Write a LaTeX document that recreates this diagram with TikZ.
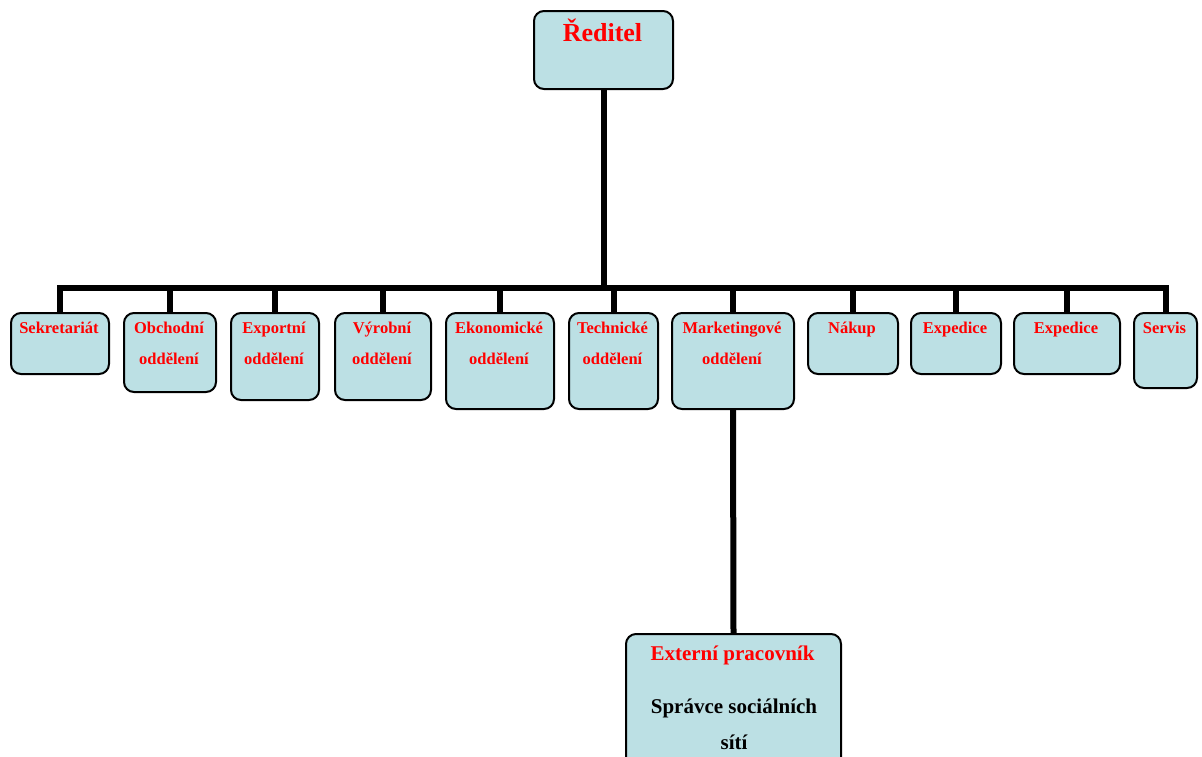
\documentclass[tikz,border=0pt]{standalone}
\usepackage{fontspec}
\setmainfont{Liberation Serif}
\definecolor{boxfill}{RGB}{188,224,228}
\tikzset{
  orgbox/.style={draw=black, line width=2pt, fill=boxfill, rounded corners=10pt, anchor=north west, inner sep=0pt},
  conn/.style={line width=6pt, black},
  lbl/.style={anchor=base, text=red, font=\fontsize{16.5}{20}\selectfont\bfseries, inner sep=0pt},
  biglbl/.style={anchor=base, text=red, font=\fontsize{21}{24}\selectfont\bfseries, inner sep=0pt},
  blklbl/.style={anchor=base, text=black, font=\fontsize{21}{24}\selectfont\bfseries, inner sep=0pt},
}
\begin{document}
\begin{tikzpicture}[x=1pt,y=-1pt]
\useasboundingbox (0,0) rectangle (1202,756);
\clip (0,0) rectangle (1202,756);
\coordinate (bar) at (0,288);
% boxes
\node[orgbox, minimum width=139pt, minimum height=78pt] (red) at (533,10) {};
\node[orgbox, minimum width=98pt, minimum height=61pt] (sek) at (10,312) {};
\node[orgbox, minimum width=92pt, minimum height=79pt] (obc) at (123,312) {};
\node[orgbox, minimum width=88pt, minimum height=87pt] (exp) at (230,312) {};
\node[orgbox, minimum width=96pt, minimum height=87pt] (vyr) at (334,312) {};
\node[orgbox, minimum width=108pt, minimum height=96pt] (eko) at (445,312) {};
\node[orgbox, minimum width=89pt, minimum height=96pt] (tec) at (568,312) {};
\node[orgbox, minimum width=122pt, minimum height=96pt] (mkt) at (671,312) {};
\node[orgbox, minimum width=90pt, minimum height=61pt] (nak) at (807,312) {};
\node[orgbox, minimum width=90pt, minimum height=61pt] (exa) at (910,312) {};
\node[orgbox, minimum width=106pt, minimum height=61pt] (exb) at (1013,312) {};
\node[orgbox, minimum width=63pt, minimum height=75pt] (ser) at (1133,312) {};
\node[orgbox, minimum width=215pt, minimum height=150pt] (ext) at (625,633) {};
% connectors
\foreach \b in {sek,obc,exp,vyr,eko,tec,mkt,nak,exa,exb,ser}{
  \draw[conn] (red.south) -- (red.south |- bar) -| (\b.north);
}
\draw[conn] (mkt.south) -- (ext.north);
% labels
\node[biglbl, font=\fontsize{26}{30}\selectfont\bfseries] (redt) at (602.5,41) {Ředitel};
\node[lbl] (sekt) at (59,333) {Sekretariát};
\node[lbl] (obct) at (169,333) {Obchodní};
\node[lbl] (obcu) at (169,364) {oddělení};
\node[lbl] (expt) at (274,333) {Exportní};
\node[lbl] (expu) at (274,364) {oddělení};
\node[lbl] (vyrt) at (382,333) {Výrobní};
\node[lbl] (vyru) at (382,364) {oddělení};
\node[lbl] (ekot) at (499,333) {Ekonomické};
\node[lbl] (ekou) at (499,364) {oddělení};
\node[lbl] (tect) at (612.5,333) {Technické};
\node[lbl] (tecu) at (612.5,364) {oddělení};
\node[lbl] (mktt) at (732,333) {Marketingové};
\node[lbl] (mktu) at (732,364) {oddělení};
\node[lbl] (nakt) at (852,333) {Nákup};
\node[lbl] (exat) at (955,333) {Expedice};
\node[lbl] (exbt) at (1066,333) {Expedice};
\node[lbl] (sert) at (1164.5,333) {Servis};
\node[biglbl] (extt) at (732.5,660) {Externí pracovník};
\node[blklbl] (extu) at (734,713) {Správce sociálních};
\node[blklbl] (extv) at (734,749) {sítí};
\end{tikzpicture}
\end{document}
